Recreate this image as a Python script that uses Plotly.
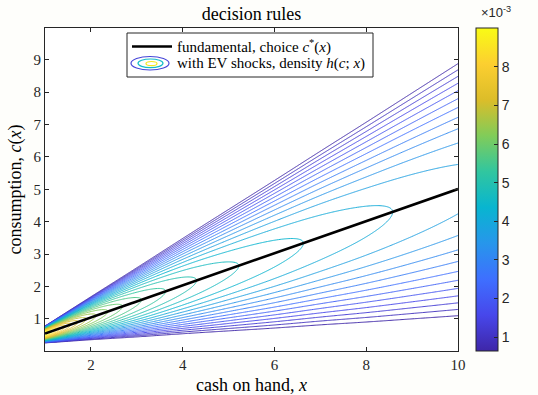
import numpy as np
import plotly.graph_objects as go

# ---------------- data ----------------
# optimal (fundamental) consumption rule c*(x)
x_knots = [1, 2, 3, 4, 5, 6, 7, 8, 9, 10]
c_star = [0.55, 1.05, 1.54, 2.04, 2.53, 3.02, 3.52, 4.01, 4.51, 5.01]

# peak of the choice density h(c;x) along c*(x)
peak_x = [1.0, 1.5, 2.0, 2.5, 3.0, 4.0, 5.0, 6.0, 7.0, 8.0, 9.0, 10.0]
peak_density = [9.01e-3, 7.43e-3, 6.56e-3, 6.00e-3, 5.61e-3, 5.09e-3,
                4.74e-3, 4.51e-3, 4.33e-3, 4.18e-3, 4.05e-3, 3.93e-3]

# half-width of the density above / below c*(x)
spread_up = [0.243, 0.684, 1.137, 1.596, 2.061, 2.528, 2.997, 3.471, 3.947, 4.428]
spread_down = [0.306, 0.747, 1.198, 1.656, 2.118, 2.583, 3.050, 3.521, 3.996, 4.474]

density_min = 0.64e-3
density_max = 9.01e-3
n_levels = 28

x_ticks = [2, 4, 6, 8, 10]
c_ticks = [1, 2, 3, 4, 5, 6, 7, 8, 9]
cbar_ticks = [1, 2, 3, 4, 5, 6, 7, 8]   # in units of 1e-3

# ---------------- helpers ----------------
def pchip(xk, yk, xq):
    """Shape-preserving piecewise cubic Hermite interpolation."""
    xk = np.asarray(xk, float)
    yk = np.asarray(yk, float)
    h = np.diff(xk)
    delta = np.diff(yk) / h
    m = np.zeros_like(yk)
    for i in range(1, len(xk) - 1):
        if delta[i - 1] * delta[i] > 0:
            w1 = 2 * h[i] + h[i - 1]
            w2 = h[i] + 2 * h[i - 1]
            m[i] = (w1 + w2) / (w1 / delta[i - 1] + w2 / delta[i])
    m[0] = delta[0]
    m[-1] = delta[-1]
    idx = np.clip(np.searchsorted(xk, xq) - 1, 0, len(xk) - 2)
    t = (xq - xk[idx]) / h[idx]
    h00 = 2 * t**3 - 3 * t**2 + 1
    h10 = t**3 - 2 * t**2 + t
    h01 = -2 * t**3 + 3 * t**2
    h11 = t**3 - t**2
    return (h00 * yk[idx] + h10 * h[idx] * m[idx]
            + h01 * yk[idx + 1] + h11 * h[idx] * m[idx + 1])


parula = [
    [0 / 9, "#3e26a8"], [1 / 9, "#4747eb"], [2 / 9, "#3e6fff"],
    [3 / 9, "#2796eb"], [4 / 9, "#08b5d0"], [5 / 9, "#31c69f"],
    [6 / 9, "#81cc59"], [7 / 9, "#dcbd29"], [8 / 9, "#fccf30"],
    [9 / 9, "#f9fb15"],
]

# ---------------- density surface ----------------
xs = np.linspace(1, 10, 451)
cs = np.linspace(0.01, 9.98, 900)

cs_x = pchip(x_knots, c_star, xs)
pk_x = pchip(peak_x, peak_density, xs)
wu_x = pchip(x_knots, spread_up, xs)
wd_x = pchip(x_knots, spread_down, xs)

C = cs[:, None]
dev = C - cs_x[None, :]
z = np.where(dev >= 0, dev / wu_x[None, :], -dev / wd_x[None, :])
h = pk_x[None, :] * (1.0 - z**2)
h = np.maximum(h, density_min)
h_e3 = (h * 1e3).astype(np.float32)

lvl_step = (density_max - density_min) * 1e3 / (n_levels + 1)
lvl_start = density_min * 1e3 + lvl_step
lvl_end = density_min * 1e3 + n_levels * lvl_step

fig = go.Figure()

fig.add_trace(go.Contour(
    x=xs, y=cs, z=h_e3,
    autocontour=False,
    contours=dict(start=lvl_start, end=lvl_end, size=lvl_step, coloring="lines"),
    line=dict(width=1, smoothing=0.8),
    colorscale=parula, zmin=density_min * 1e3, zmax=density_max * 1e3,
    showscale=False, hoverinfo="skip",
))

# colour bar for the density
fig.add_trace(go.Heatmap(
    z=[[density_min * 1e3, density_max * 1e3]], x=[-20, -19], y=[-20, -19],
    colorscale=parula, zmin=density_min * 1e3, zmax=density_max * 1e3,
    hoverinfo="skip",
    colorbar=dict(
        x=(476 - 45) / 413, xanchor="left", xpad=0,
        y=0.5, yanchor="middle", ypad=0,
        len=323, lenmode="pixels", thickness=22,
        outlinewidth=1, outlinecolor="#262626",
        ticks="inside", ticklen=4, tickcolor="#262626",
        tickvals=cbar_ticks,
        tickfont=dict(family="Liberation Sans", size=14, color="#262626"),
    ),
))

# fundamental consumption rule
fig.add_trace(go.Scatter(
    x=xs, y=cs_x, mode="lines",
    line=dict(color="black", width=2.6),
    hoverinfo="skip", showlegend=False,
))

serif = "Liberation Serif"
axis_common = dict(
    ticks="inside", ticklen=4, tickcolor="#262626",
    showline=True, mirror="ticks", linecolor="#262626", linewidth=1,
    showgrid=False, zeroline=False,
    tickfont=dict(family=serif, size=15, color="#262626"),
)

fig.update_layout(
    width=538, height=395,
    margin=dict(l=45, r=80, t=28, b=44),
    paper_bgcolor="#fefefb", plot_bgcolor="white",
    showlegend=False,
    title=dict(text="decision rules", x=0.5, xref="paper", xanchor="center",
               y=1 - 14 / 395, yref="container", yanchor="middle",
               font=dict(family=serif, size=18, color="black")),
    xaxis=dict(range=[1, 10], tickvals=x_ticks, **axis_common),
    yaxis=dict(range=[0.01, 9.98], tickvals=c_ticks, **axis_common),
)


# positions below are given in figure pixels
def px_x(p):
    return (p - 45) / 413


def px_y(p):
    return (351 - p) / 323


label_font = dict(family=serif, size=18, color="black")
fig.add_annotation(xref="paper", yref="paper", x=0.5, y=px_y(385),
                   xanchor="center", yanchor="middle", showarrow=False,
                   text="cash on hand, <i>x</i>", font=label_font)
fig.add_annotation(xref="paper", yref="paper", x=px_x(15), y=0.5,
                   xanchor="center", yanchor="middle", showarrow=False,
                   textangle=-90,
                   text="consumption, <i>c</i>(<i>x</i>)", font=label_font)

# legend box
shapes = [
    dict(type="rect", xref="paper", yref="paper",
         x0=px_x(127), x1=px_x(373), y0=px_y(77), y1=px_y(33),
         line=dict(color="#262626", width=1), fillcolor="white", layer="above"),
    dict(type="line", xref="paper", yref="paper",
         x0=px_x(132), x1=px_x(172), y0=px_y(46.5), y1=px_y(46.5),
         line=dict(color="black", width=2.6), layer="above"),
    dict(type="circle", xref="paper", yref="paper",
         x0=px_x(131), x1=px_x(169), y0=px_y(70), y1=px_y(56.5),
         line=dict(color="#4747d8", width=1.2), layer="above"),
    dict(type="circle", xref="paper", yref="paper",
         x0=px_x(138), x1=px_x(163), y0=px_y(67.7), y1=px_y(59),
         line=dict(color="#14bcc8", width=1.2), layer="above"),
    dict(type="circle", xref="paper", yref="paper",
         x0=px_x(146), x1=px_x(157), y0=px_y(65.7), y1=px_y(61.5),
         line=dict(color="#f4e81c", width=1.2), layer="above"),
]
fig.update_layout(shapes=shapes)

legend_font = dict(family=serif, size=15, color="black")
fig.add_annotation(xref="paper", yref="paper", x=px_x(175), y=px_y(46.5),
                   xanchor="left", yanchor="middle", showarrow=False,
                   text="fundamental, choice <i>c</i><sup>*</sup>(<i>x</i>)",
                   font=legend_font)
fig.add_annotation(xref="paper", yref="paper", x=px_x(175), y=px_y(63.5),
                   xanchor="left", yanchor="middle", showarrow=False,
                   text="with EV shocks, density <i>h</i>(<i>c</i>; <i>x</i>)",
                   font=legend_font)
# exponent label of the colour bar
fig.add_annotation(xref="paper", yref="paper", x=px_x(479), y=px_y(12),
                   xanchor="left", yanchor="middle", showarrow=False,
                   text="×10<sup>-3</sup>",
                   font=dict(family="Liberation Sans", size=13, color="#262626"))

fig.write_html("out.html")
